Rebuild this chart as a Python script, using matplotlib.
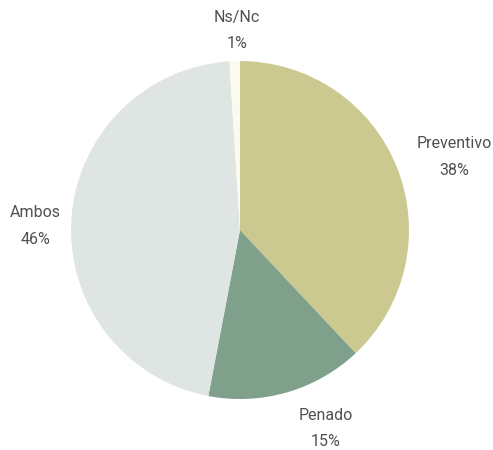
import numpy as np
import matplotlib
matplotlib.use('Agg')
import matplotlib.pyplot as plt

labels = ['Preventivo', 'Penado', 'Ambos', 'Ns/Nc']
values = [38, 15, 46, 1]
colors = ['#cbc890', '#7fa18c', '#dfe5e2', '#fbfaee']
# label placement: distance from centre (in radii) and angle shift from the wedge middle
label_dist = [1.34, 1.28, 1.21, 1.18]
label_shift = [-2.8, 7.1, 2.5, -0.9]

fig = plt.figure(figsize=(4.93, 4.5), dpi=100)
ax = fig.add_axes([0.144, 0.1133, 0.6856, 0.751])
wedges, _ = ax.pie(values, colors=colors, startangle=90, counterclock=False,
                   wedgeprops=dict(linewidth=0))
ax.set_xlim(-1, 1)
ax.set_ylim(-1, 1)

for w, lab, v, d, s in zip(wedges, labels, values, label_dist, label_shift):
    ang = np.deg2rad((w.theta1 + w.theta2) / 2 + s)
    ax.text(d * np.cos(ang), d * np.sin(ang), f'{lab}\n{v}%',
            ha='center', va='center', fontsize=11.5, color='#505050',
            family='Roboto', fontweight='normal', linespacing=1.95, clip_on=False)

fig.savefig('out.png', dpi=100, facecolor='white')
